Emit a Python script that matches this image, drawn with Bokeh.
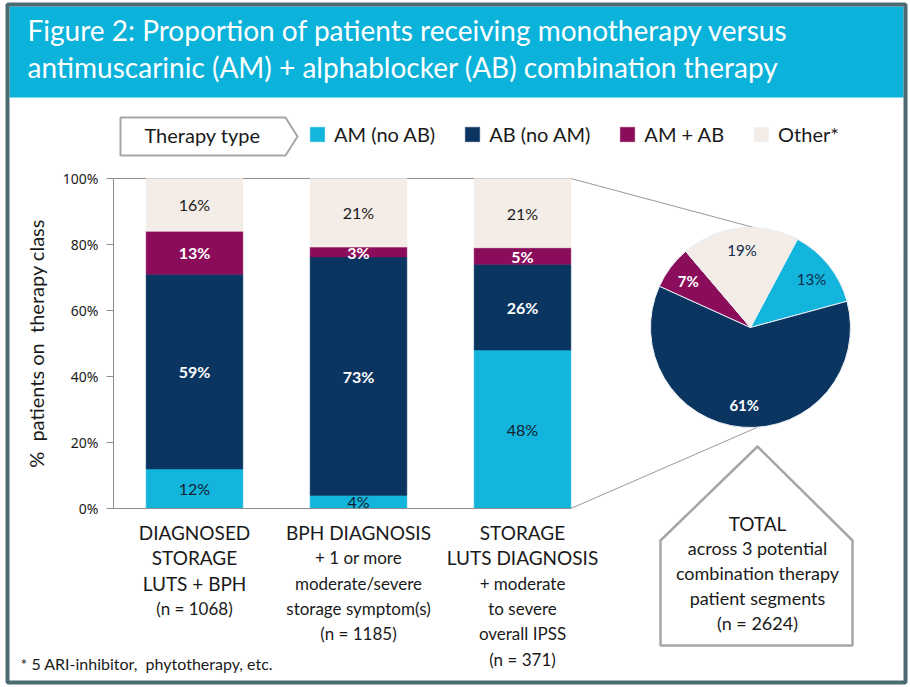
import math
from bokeh.plotting import figure
from bokeh.models import (Range1d, LinearAxis, FixedTicker, PrintfTickFormatter,
                          Legend, LegendItem)
from bokeh.core.properties import value
from bokeh.embed import file_html
from bokeh.resources import INLINE

# ---------------- data ----------------
title_lines = ["Figure 2: Proportion of patients receiving monotherapy versus",
               "antimuscarinic (AM) + alphablocker (AB) combination therapy"]
series_names = ["AM (no AB)", "AB (no AM)", "AM + AB", "Other*"]
category_lines = [
    ["DIAGNOSED", "STORAGE", "LUTS + BPH", "(n = 1068)"],
    ["BPH DIAGNOSIS", "+ 1 or more", "moderate/severe", "storage symptom(s)", "(n = 1185)"],
    ["STORAGE", "LUTS DIAGNOSIS", "+ moderate", "to severe", "overall IPSS", "(n = 371)"],
]
am_no_ab = [12, 4, 48]
ab_no_am = [59, 73, 26]
am_plus_ab = [13, 3, 5]
other = [16, 21, 21]
y_ticks = [0, 20, 40, 60, 80, 100]
pie_values = [13, 61, 7, 19]          # AM (no AB), AB (no AM), AM + AB, Other*
total_lines = ["TOTAL", "across 3 potential", "combination therapy",
               "patient segments", "(n = 2624)"]
legend_title = "Therapy type"
y_label = "%\u00a0 patients on\u00a0 therapy class"
footnote = "* 5 ARI-inhibitor,\u00a0 phytotherapy, etc."

# ---------------- layout & styles ----------------
W, H = 910, 687
X_CAT0, DX_CAT, BAR_W = 194.0, 164.0, 0.59     # px of first category, px per category, bar width (units)
Y_ZERO, PX_PCT = 508.0, 3.3                     # px of 0 %, px per %
AXIS_PX = 113.0
AXIS_U = (AXIS_PX - X_CAT0) / DX_CAT
PIE_CX, PIE_CY, PIE_R = 750.0, 327.0, 100.0
PIE_START = 62.0                                 # deg, counter-clockwise from 3 o'clock
FONT = "Lato"
DARK = "#1a1a1a"
GRAY = "#8c8c8c"
colors = ["#13b5dd", "#0b3561", "#8c0c5c", "#f4ece7"]
bar_text_colors = ["#13202e", "white", "white", DARK]
bar_text_styles = ["normal", "bold", "bold", "normal"]
pie_text_colors = ["#0b2a4a", "white", "white", "#0b2a4a"]
pie_text_styles = ["normal", "bold", "bold", "normal"]


def px_x(u):
    return X_CAT0 + DX_CAT * u


def px_y(pct):
    return Y_ZERO - PX_PCT * pct


p = figure(width=W, height=H, x_range=Range1d(0, W), y_range=Range1d(H, 0),
           x_axis_type=None, y_axis_type=None, toolbar_location=None,
           output_backend="svg", min_border=0, outline_line_color=None,
           background_fill_color="white", border_fill_color="white")
p.title.visible = False
p.extra_x_ranges = {"bars": Range1d(-X_CAT0 / DX_CAT, (W - X_CAT0) / DX_CAT)}
p.extra_y_ranges = {"pct": Range1d((Y_ZERO - H) / PX_PCT, Y_ZERO / PX_PCT)}

# ---- frame and title band ----
p.quad(left=[9], right=[903], top=[6], bottom=[97],
       fill_color="#0bb2da", line_color=None)
p.rect(x=[456], y=[343], width=[898], height=[678],
       fill_color=None, line_color="#4a6b71", line_width=4)
p.text(x=[27, 27], y=[29, 66], text=title_lines, text_font=value(FONT),
       text_font_size="28px", text_color="white", text_baseline="middle",
       text_align="left")

# ---- legend header shape ----
p.patch(x=[120, 285, 297, 285, 120], y=[117, 117, 136, 155, 155],
        fill_color="white", line_color="#a6a6a6", line_width=2)
p.text(x=[202], y=[134], text=[legend_title], text_font=value(FONT),
       text_font_size="20px", text_color=DARK, text_align="center",
       text_baseline="middle")

# ---- plot box top line and connectors ----
bar3_right = 2 + BAR_W / 2
p.segment(x0=[AXIS_U], y0=[100], x1=[bar3_right], y1=[100],
          x_range_name="bars", y_range_name="pct", line_color=GRAY, line_width=1)
a_top = math.radians(PIE_START)
a_bot = math.radians(-86)
p.segment(x0=[px_x(bar3_right), px_x(bar3_right)], y0=[px_y(100), px_y(0)],
          x1=[PIE_CX + PIE_R * math.cos(a_top), PIE_CX + PIE_R * math.cos(a_bot)],
          y1=[PIE_CY - PIE_R * math.sin(a_top), PIE_CY - PIE_R * math.sin(a_bot)],
          line_color="#9a9a9a", line_width=1)

# ---- stacked bars ----
series = [am_no_ab, ab_no_am, am_plus_ab, other]
totals = [sum(s[i] for s in series) for i in range(3)]
xs = [0, 1, 2]
bottom = [0.0, 0.0, 0.0]
legend_items = []
for k, vals in enumerate(series):
    top = [bottom[i] + vals[i] * 100.0 / totals[i] for i in range(3)]
    r = p.vbar(x=xs, width=BAR_W, bottom=bottom, top=top, fill_color=colors[k],
               line_color=colors[k], line_width=0.5,
               x_range_name="bars", y_range_name="pct")
    legend_items.append(LegendItem(label=series_names[k], renderers=[r]))
    mids = [(bottom[i] + top[i]) / 2 for i in range(3)]
    p.text(x=xs, y=mids, text=[f"{v}%" for v in vals], x_range_name="bars",
           y_range_name="pct", text_font=value(FONT), text_font_size="16px",
           text_color=bar_text_colors[k], text_font_style=bar_text_styles[k],
           text_align="center", text_baseline="middle")
    bottom = top

# ---- axes ----
yaxis = LinearAxis(x_range_name="bars", y_range_name="pct", fixed_location=AXIS_U,
                   bounds=(0, 100), ticker=FixedTicker(ticks=y_ticks),
                   formatter=PrintfTickFormatter(format="%d%%"),
                   axis_label=y_label)
yaxis.axis_line_color = GRAY
yaxis.major_tick_line_color = GRAY
yaxis.major_tick_out = 7
yaxis.major_tick_in = 0
yaxis.minor_tick_line_color = None
yaxis.major_label_text_font = "Noto Sans"
yaxis.major_label_text_font_size = "14px"
yaxis.major_label_text_color = DARK
yaxis.major_label_standoff = 8
yaxis.axis_label_text_font = FONT
yaxis.axis_label_text_font_size = "20px"
yaxis.axis_label_text_font_style = "normal"
yaxis.axis_label_text_color = DARK
yaxis.axis_label_standoff = 12
p.add_layout(yaxis, "left")

xaxis = LinearAxis(x_range_name="bars", y_range_name="pct", fixed_location=0,
                   bounds=(AXIS_U, bar3_right), ticker=FixedTicker(ticks=[]))
xaxis.axis_line_color = GRAY
xaxis.major_tick_line_color = None
xaxis.minor_tick_line_color = None
xaxis.major_label_text_font_size = "0px"
p.add_layout(xaxis, "below")

# ---- category labels ----
for i, lines in enumerate(category_lines):
    for j, line in enumerate(lines):
        p.text(x=[i], y=[532 + 25.3 * j], text=[line], x_range_name="bars",
               text_font=value(FONT),
               text_font_size="19px" if line.isupper() else "17px",
               text_color=DARK, text_align="center", text_baseline="middle")

# ---- pie ----
starts, ends = [], []
a = PIE_START
tot = sum(pie_values)
for v in pie_values:
    starts.append(math.radians(a))
    a -= v * 360.0 / tot
    ends.append(math.radians(a))
p.wedge(x=PIE_CX, y=PIE_CY, radius=PIE_R, start_angle=starts, end_angle=ends,
        direction="clock", fill_color=colors, line_color="#e8eef4", line_width=1)
for k, v in enumerate(pie_values):
    mid = (starts[k] + ends[k]) / 2
    p.text(x=[PIE_CX + 0.78 * PIE_R * math.cos(mid)],
           y=[PIE_CY - 0.78 * PIE_R * math.sin(mid)], text=[f"{v}%"],
           text_font=value(FONT), text_font_size="15px",
           text_color=pie_text_colors[k], text_font_style=pie_text_styles[k],
           text_align="center", text_baseline="middle")

# ---- TOTAL box ----
p.patch(x=[757, 852, 852, 660, 660], y=[446, 540, 645, 645, 540],
        fill_color="white", line_color="#a6a6a6", line_width=2.5)
for j, line in enumerate(total_lines):
    p.text(x=[757], y=[523 + 24.8 * j], text=[line], text_font=value(FONT),
           text_font_size="19px" if j == 0 else "18px", text_color=DARK,
           text_align="center", text_baseline="middle")

# ---- footnote ----
p.text(x=[20], y=[663], text=[footnote], text_font=value(FONT),
       text_font_size="16px", text_color=DARK, text_align="left",
       text_baseline="middle")

# ---- legend ----
legend = Legend(items=legend_items, orientation="horizontal",
                location=(308, H - 146), padding=0, margin=0,
                glyph_width=18, glyph_height=18, label_standoff=8, spacing=28,
                label_text_font=FONT, label_text_font_size="20px",
                label_text_color=DARK, border_line_color=None,
                background_fill_alpha=0)
p.add_layout(legend)

open("out.html", "w").write(file_html(p, INLINE))
